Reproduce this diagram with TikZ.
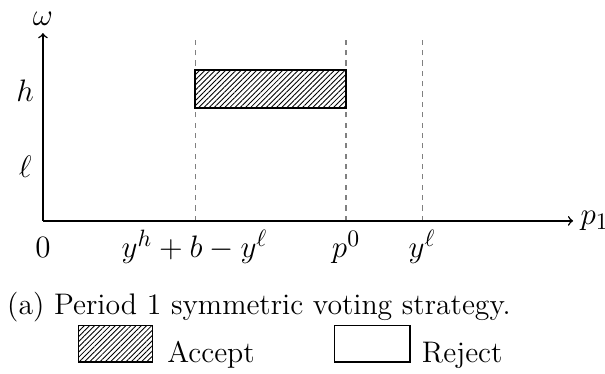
\documentclass[tikz,border=0pt]{standalone}
\usepackage{amsmath, amssymb}
\usepackage{tikz}
\usetikzlibrary{positioning, patterns.meta}
\tikzset{
  axis/.style   = {->, line width=0.7pt},
  guide/.style  = {gray, dash pattern=on 2.4pt off 2.4pt, line width=0.55pt},
  accept/.style = {draw, line width=0.6pt, pattern={Lines[angle=45, distance=1.7pt, line width=0.4pt]}},
  reject/.style = {draw, line width=0.6pt},
  lbl/.style    = {font=\fontsize{15}{18}\selectfont},
  txt/.style    = {font=\fontsize{13.8}{16.5}\selectfont, inner sep=0pt}
}

\begin{document}
\begin{tikzpicture}
        \useasboundingbox (-0.70,-2.49) rectangle (9.16,3.60);
        \coordinate (o)  at (0,0);
        \coordinate (xe) at (8.64,0);
        \coordinate (ye) at (0,3.06);
        \coordinate (a0) at (2.48,0);
        \coordinate (b0) at (4.94,0);
        \coordinate (c0) at (6.18,0);
        \coordinate (a1) at (2.48,2.98);
        \coordinate (b1) at (4.94,2.98);
        \coordinate (c1) at (6.18,2.98);
        \draw[guide] (a0) -- (a1);
        \draw[guide] (b0) -- (b1);
        \draw[guide] (c0) -- (c1);
        \draw[accept] (2.48,1.84) rectangle (4.94,2.46);
        \draw[axis] (o) -- (xe);
        \draw[axis] (o) -- (ye);
        \node[lbl, right] (p1) at (xe) {$p_1$};
        \node[lbl, above] (w) at (ye) {$\omega$};
        \node[lbl] (h) at (-0.29,2.12) {$h$};
        \node[lbl] (l) at (-0.29,0.88) {$\ell$};
        \node[lbl, anchor=base] (t0) at (0,-0.60) {$0$};
        \node[lbl, anchor=base] (ta) at (2.47,-0.60) {$y^h + b - y^\ell$};
        \node[lbl, anchor=base] (tb) at (4.94,-0.60) {$p^0$};
        \node[lbl, anchor=base] (tc) at (6.18,-0.60) {$y^\ell$};
        \node[txt, anchor=base west] (cap) at (-0.59,-1.53) {(a) Period 1 symmetric voting strategy.};
        \node[accept, minimum width=1.20cm, minimum height=0.60cm, anchor=south west] (kacc) at (0.57,-2.31) {};
        \node[txt, anchor=base west] (tacc) at (2.02,-2.30) {Accept};
        \node[reject, minimum width=1.23cm, minimum height=0.60cm, anchor=south west] (krej) at (4.74,-2.31) {};
        \node[txt, anchor=base west] (trej) at (6.17,-2.30) {Reject};
      \end{tikzpicture}
\end{document}
